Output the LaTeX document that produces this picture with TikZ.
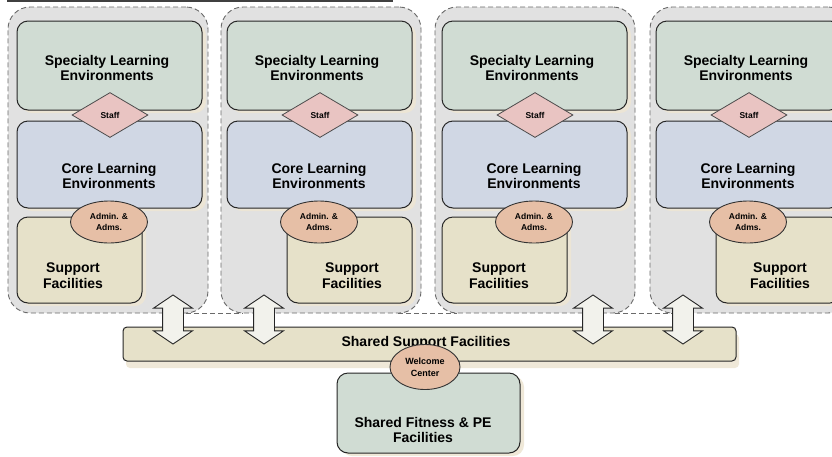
\documentclass[tikz,border=0pt]{standalone}
\usepackage{fontspec}
\setmainfont{Liberation Sans}
\usetikzlibrary{shapes.geometric,shapes.arrows,shadows}
\definecolor{cgray}{HTML}{E1E1E1}
\definecolor{cgreen}{HTML}{D0DCD3}
\definecolor{cblue}{HTML}{D0D7E4}
\definecolor{cbeige}{HTML}{E6E1C9}
\definecolor{cpink}{HTML}{E9C4C2}
\definecolor{csalmon}{HTML}{E6BFA6}
\definecolor{cshadow}{HTML}{EEE6D4}
\definecolor{carrow}{HTML}{F2F2EC}
\definecolor{cdash}{HTML}{6A6A6A}
\tikzset{
  cont/.style={draw=cdash, fill=cgray, line width=0.9pt, dash pattern=on 5pt off 3pt,
    rounded corners=22pt, minimum width=200pt, minimum height=306pt, inner sep=0pt},
  gapline/.style={draw=cdash, line width=0.9pt, dash pattern=on 5pt off 3pt},
  ibox/.style={draw=black!85, line width=1pt, rounded corners=11pt, inner sep=0pt,
    drop shadow={shadow xshift=4pt, shadow yshift=-3pt, fill=cshadow, opacity=0.9}},
  gbox/.style={ibox, fill=cgreen, minimum width=185pt, minimum height=89pt},
  bbox/.style={ibox, fill=cblue, minimum width=185pt, minimum height=87pt},
  sbox/.style={ibox, fill=cbeige, minimum width=125pt, minimum height=86pt},
  dia/.style={diamond, draw=black!70, line width=0.8pt, fill=cpink, minimum width=76pt,
    minimum height=45pt, inner sep=0pt, font=\bfseries\fontsize{8.5}{9}\selectfont},
  ell/.style={ellipse, draw=black!80, line width=0.9pt, fill=csalmon, minimum width=77pt,
    minimum height=42pt, inner sep=0pt, align=center, font=\bfseries\fontsize{8.5}{11.5}\selectfont},
  txt/.style={align=center, inner sep=0pt, font=\bfseries\fontsize{14}{15.5}\selectfont},
  dbl/.style={double arrow, draw=black!85, line width=0.9pt, fill=carrow, rotate=90,
    minimum height=49pt, inner xsep=0pt, inner ysep=10pt, double arrow head extend=9pt,
    double arrow tip angle=112},
}
\begin{document}
\begin{tikzpicture}[x=1pt,y=-1pt]
\useasboundingbox (0,0) rectangle (832,456);
\clip (0,0) rectangle (832,456);
\fill[white] (0,0) rectangle (832,456);
\draw[black!75, line width=1.6pt] (7,1) -- (393,1);
\foreach \i/\cl/\gl/\sl/\tx in {1/8/17/17/73, 2/221/227/287/352, 3/435/442/442/499, 4/650/656/716/780}{
  \node[cont] (c\i) at ({\cl+100},160) {};
  \node[gbox] (g\i) at ({\gl+92.5},65.5) {};
  \node[bbox] (b\i) at ({\gl+92.5},164.5) {};
  \node[sbox] (s\i) at ({\sl+62.5},260) {};
  \node[txt] (tg\i) at ({\gl+90},68) {Specialty Learning\\Environments};
  \node[txt] (tb\i) at ({\gl+92},176) {Core Learning\\Environments};
  \node[txt] (ts\i) at (\tx,275.5) {Support\\Facilities};
  \node[dia] (d\i) at ({\gl+93},115) {Staff};
  \node[ell] (e\i) at ({\gl+92},222) {Admin. \&\\Adms.};
}
\draw[gapline] (186,313) -- (243,313);
\draw[gapline] (398,313) -- (457,313);
\draw[gapline] (615,313) -- (672,313);
\node[draw=black!85, line width=1pt, fill=cbeige, rounded corners=4pt, minimum width=613pt,
  minimum height=34pt, inner sep=0pt,
  drop shadow={shadow xshift=3pt, shadow yshift=-7pt, fill=cshadow, opacity=0.9}] (bar) at (429.5,344) {};
\node[txt] (tbar) at (426,343) {Shared Support Facilities};
\node[dbl] (a1) at (173,319.5) {};
\node[dbl] (a2) at (264,319.5) {};
\node[dbl] (a3) at (593,319.5) {};
\node[dbl] (a4) at (683,319.5) {};
\node[ibox, fill=cgreen, minimum width=183pt, minimum height=80pt] (fit) at (428.5,413) {};
\node[txt] (tfit) at (423,430) {Shared Fitness \& PE\\Facilities};
\node[ell, minimum width=70pt, minimum height=45pt, font=\bfseries\fontsize{9}{12}\selectfont] (wel) at (425,367) {Welcome\\Center};
\end{tikzpicture}
\end{document}
